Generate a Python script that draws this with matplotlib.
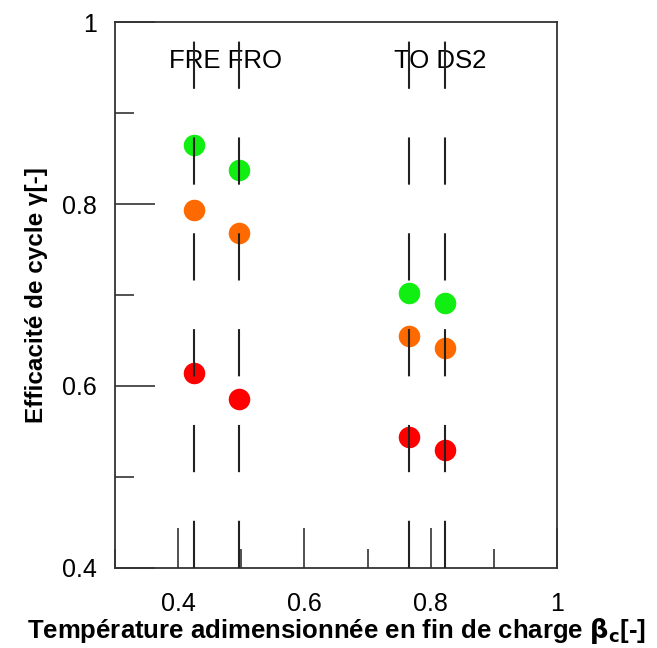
import matplotlib
matplotlib.use("Agg")
import matplotlib.pyplot as plt
from matplotlib.ticker import FixedLocator

plt.rcParams['font.family'] = ['Liberation Sans', 'DejaVu Sans']
plt.rcParams['lines.scale_dashes'] = False

# Data
labels = ["FRE", "FRO", "TO", "DS2"]
beta_c = [0.425, 0.496, 0.766, 0.823]
gamma_green = [0.865, 0.837, 0.702, 0.691]
gamma_orange = [0.793, 0.768, 0.655, 0.642]
gamma_red = [0.614, 0.586, 0.544, 0.530]

x_major = [0.4, 0.6, 0.8, 1.0]
x_major_labels = ["0.4", "0.6", "0.8", "1"]
y_major = [0.4, 0.6, 0.8, 1.0]
y_major_labels = ["0.4", "0.6", "0.8", "1"]

fig = plt.figure(figsize=(6.57, 6.48), dpi=100)
ax = fig.add_axes([0.175, 0.1235, 0.673, 0.8425])
ax.set_xlim(0.3, 1.0)
ax.set_ylim(0.4, 1.0)

# dashed vertical lines
for xv in beta_c:
    ax.plot([xv, xv], [0.4, 1.0], color='#222222', lw=1.5,
            dashes=(34, 35), zorder=3, dash_capstyle='butt')

ms = 15.5
ax.plot(beta_c, gamma_green, 'o', color='#11ee11', ms=ms, mec='none', zorder=2)
ax.plot(beta_c, gamma_orange, 'o', color='#ff6a00', ms=ms, mec='none', zorder=2)
ax.plot(beta_c, gamma_red, 'o', color='#ff0000', ms=ms, mec='none', zorder=2)

ax.text((beta_c[0] + beta_c[1]) / 2 + 0.014, 0.957, labels[0] + " " + labels[1],
        ha='center', va='center', fontsize=18.5, zorder=1)
ax.text((beta_c[2] + beta_c[3]) / 2 + 0.02, 0.957, labels[2] + " " + labels[3],
        ha='center', va='center', fontsize=18.5, zorder=1)

ax.xaxis.set_major_locator(FixedLocator(x_major))
ax.set_xticklabels(x_major_labels)
ax.yaxis.set_major_locator(FixedLocator(y_major))
ax.set_yticklabels(y_major_labels)
ax.xaxis.set_minor_locator(FixedLocator([0.3, 0.5, 0.7, 0.9]))
ax.yaxis.set_minor_locator(FixedLocator([0.5, 0.7, 0.9]))
ax.tick_params(which='major', direction='in', length=29, width=1.2, labelsize=18, color='#333333')
ax.tick_params(which='minor', direction='in', length=14, width=1.2, color='#333333')
ax.tick_params(axis='x', which='major', pad=17)
ax.tick_params(axis='y', which='major', pad=13)
for s in ax.spines.values():
    s.set_linewidth(1.3)
    s.set_color('#333333')

ax.set_xlabel(r"Température adimensionnée en fin de charge $\mathbf{\beta_c}$[-]",
              fontsize=18.5, fontweight='bold', labelpad=0)
ax.set_ylabel("Efficacité de cycle γ[-]", fontsize=17.5, fontweight='bold', labelpad=10)

fig.savefig("out.png", dpi=100)
